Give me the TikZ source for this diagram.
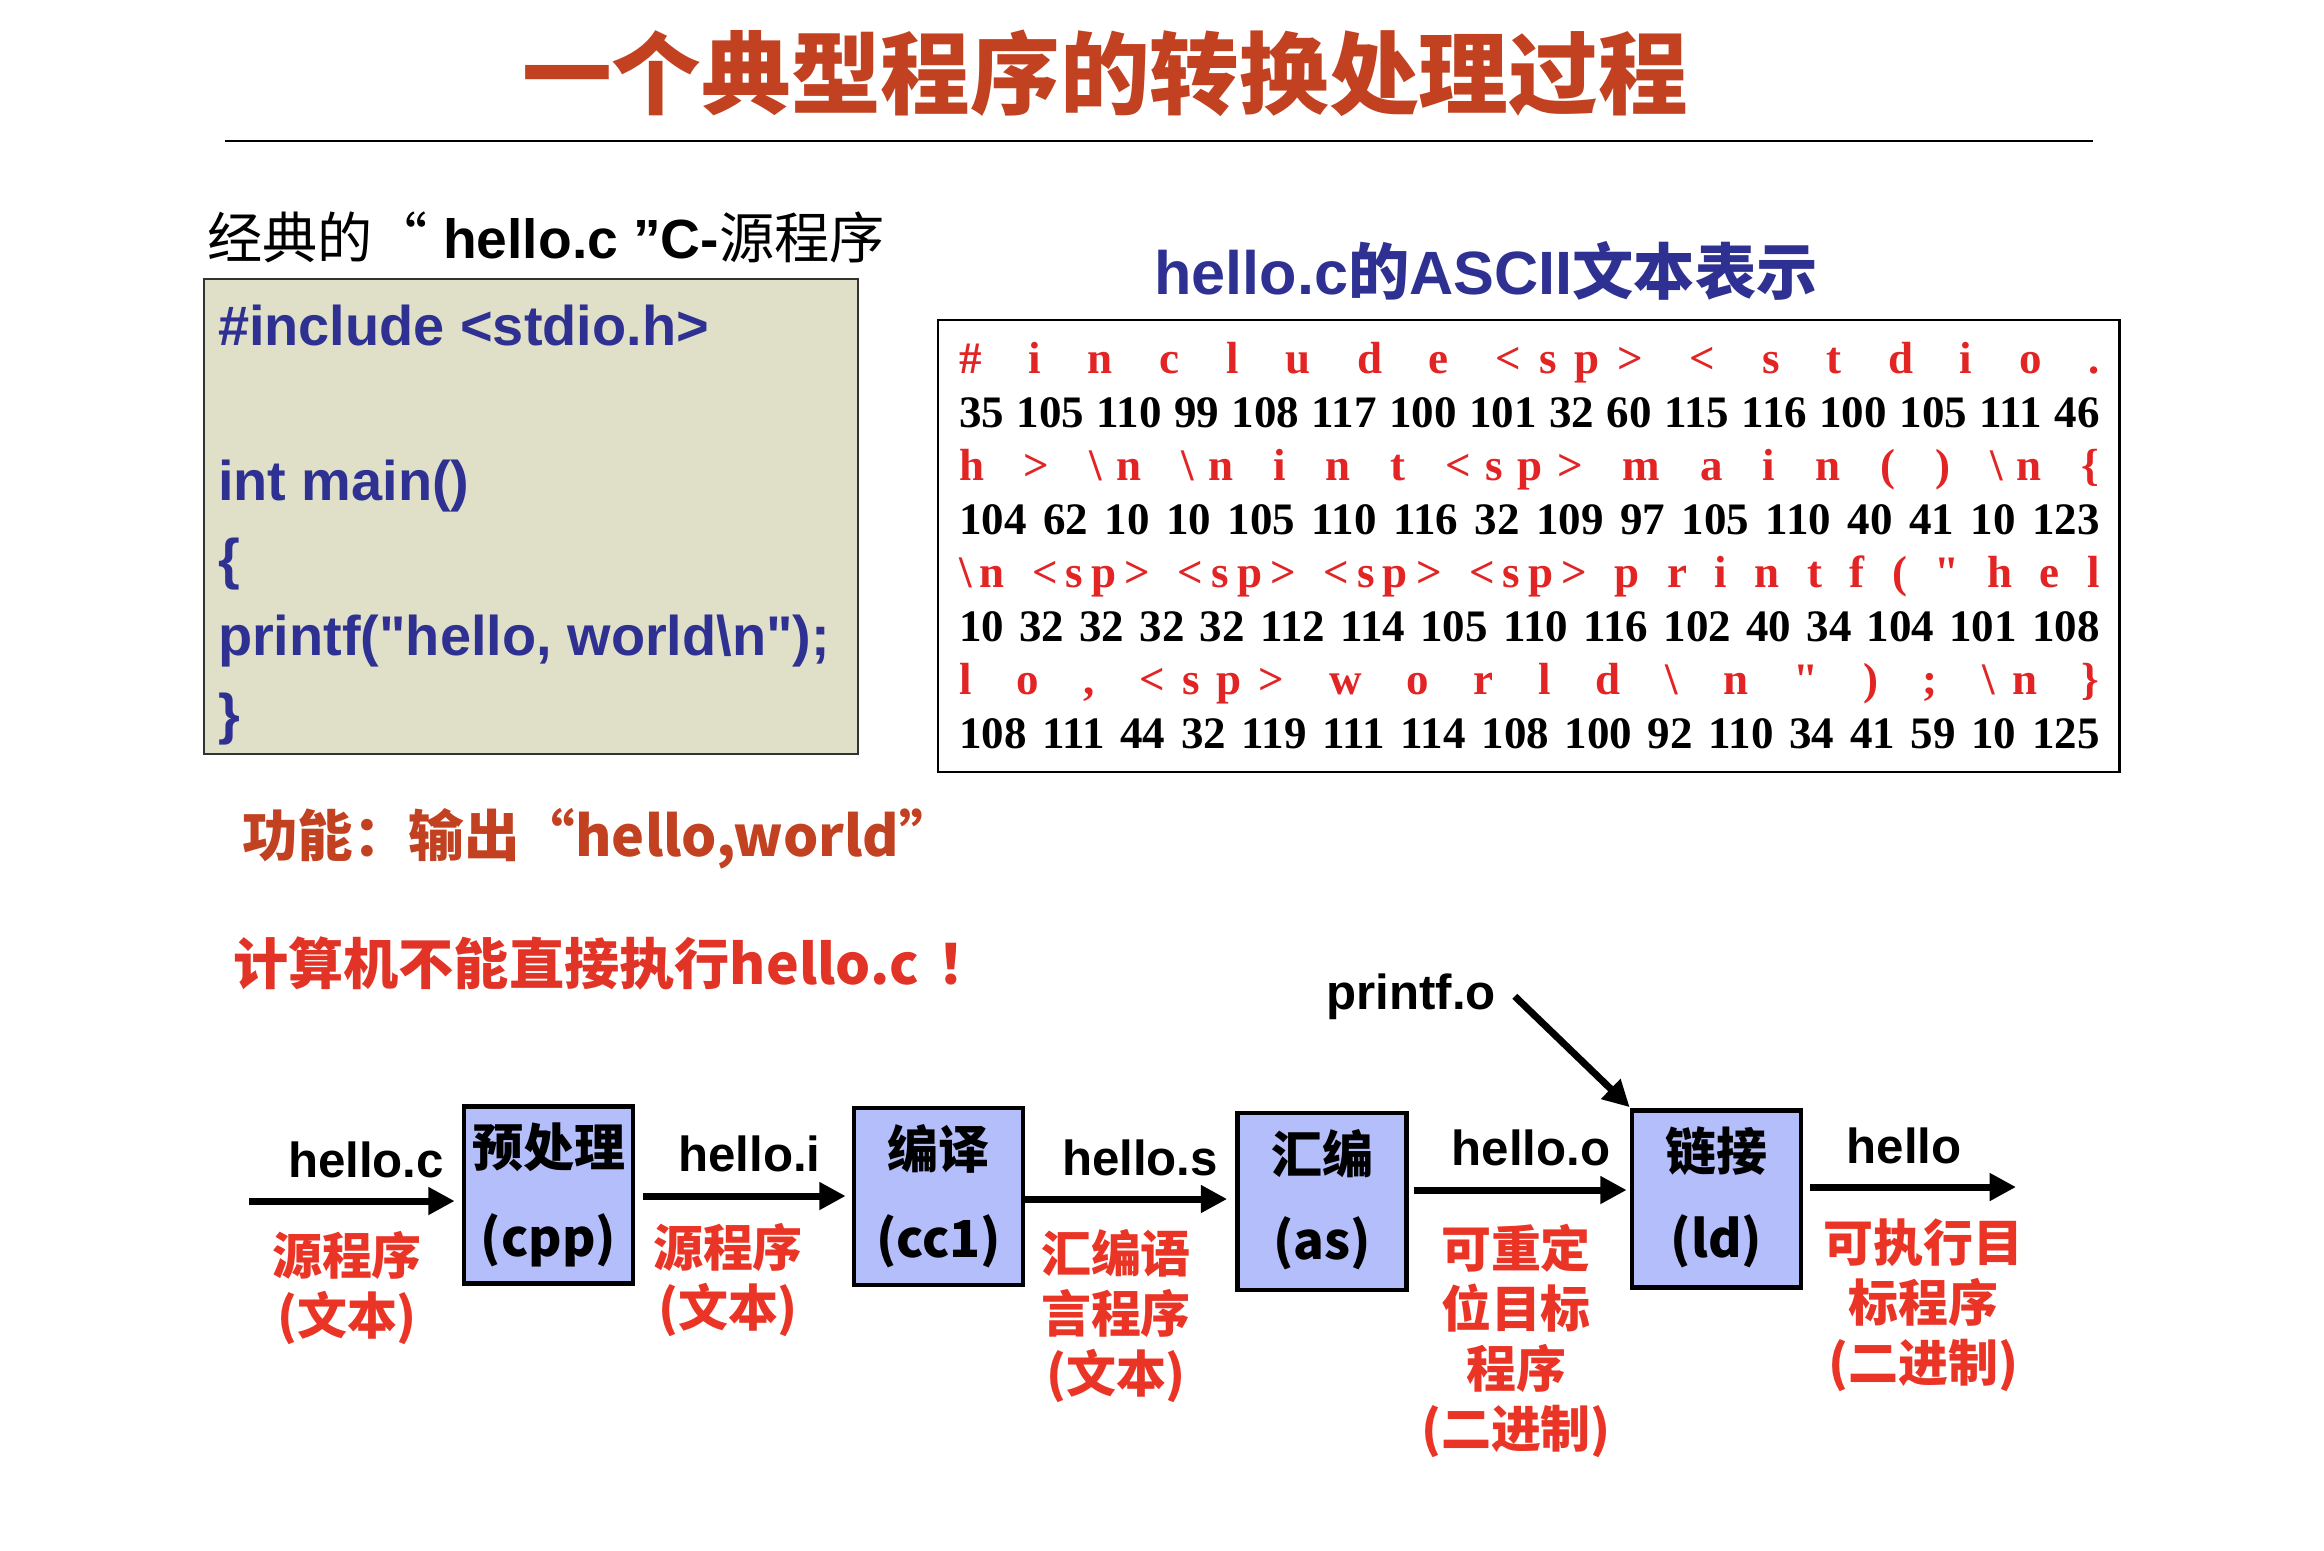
\documentclass[tikz,border=0pt]{standalone}
\usepackage{fontspec}
\setmainfont{Liberation Sans}
\newfontfamily\cjk{Noto Sans CJK SC}
\newfontfamily\serifasc{Liberation Serif}
\usetikzlibrary{arrows.meta,calc}

\definecolor{rust}{RGB}{193,65,33}
\definecolor{alertred}{RGB}{226,52,38}
\definecolor{labelred}{RGB}{234,52,38}
\definecolor{codeblue}{RGB}{46,49,146}
\definecolor{ascred}{RGB}{226,36,36}
\definecolor{codebg}{RGB}{224,223,200}
\definecolor{stagebg}{RGB}{179,190,250}

% distributed spacing for the character rows
\newcommand\cgap{\hfil}
\newcommand\tgap{\hfil\ \hfil}
\newcommand\spk{<\cgap s\cgap p\cgap >}
\newcommand\nlk{\textbackslash\cgap n}

\begin{document}
\begin{tikzpicture}[x=0.01cm,y=-0.01cm,
  txt/.style={inner sep=0pt, outer sep=0pt},
  codeline/.style={txt, anchor=base west, text=codeblue, font=\fontsize{15.9}{19}\selectfont\bfseries},
  ascrow/.style={txt, anchor=base west, font=\serifasc\fontsize{12.8}{15}\selectfont\bfseries},
  redrow/.style={ascrow, text=ascred},
  stage/.style={draw=black, line width=1.3pt, fill=stagebg, minimum width=1.69cm, minimum height=1.77cm, inner sep=0pt},
  stagetxt/.style={txt, font=\cjk\fontsize{14.5}{17}\selectfont\bfseries},
  flow/.style={line width=2pt, -{Triangle[length=7.5pt,width=7.5pt]}},
  fname/.style={txt, anchor=base, font=\fontsize{14}{17}\selectfont\bfseries},
  kind/.style={txt, align=center, text=labelred, font=\cjk\fontsize{14.2}{17}\selectfont\bfseries},
]
\useasboundingbox (0,0) rectangle (2324,1550);

% heading and rule
\node[txt, text=rust, font=\cjk\fontsize{25.5}{30}\selectfont\bfseries] (title) at (1105,73) {一个典型程序的转换处理过程};
\draw[line width=0.7pt] (225,141) -- (2093,141);

% C source listing
\node[txt, anchor=west, font=\fontsize{15.7}{18}\selectfont] (srccap) at (207,237)
  {{\cjk 经典的“}\bfseries\ hello.c ”C-{\cjk\mdseries 源程序}};
\node[draw={rgb,255:red,50;green,50;blue,50}, line width=0.6pt, fill=codebg, minimum width=6.54cm, minimum height=4.75cm, inner sep=0pt] (code) at (531,516.5) {};
\node[codeline] (c1) at (218,345) {\#include <stdio.h>};
\node[codeline] (c2) at (218,500) {int main()};
\node[codeline] (c3) at (218,578) {\{};
\node[codeline] (c4) at (218,655) {printf(\textquotedbl hello, world\textbackslash n\textquotedbl);};
\node[codeline] (c5) at (218,733) {\}};

% ASCII table
\node[txt, text=codeblue, font=\fontsize{17.4}{20}\selectfont\bfseries] (asctitle) at (1486,271)
  {hello.c{\cjk 的}ASCII{\cjk 文本表示}};
\node[draw=black, line width=0.65pt, fill=white, minimum width=11.81cm, minimum height=4.52cm, inner sep=0pt] (asc) at (1528.5,546) {};
\node[redrow] (r1) at (959,373.5) {\makebox[11.4cm][s]{\#\tgap i\tgap n\tgap c\tgap l\tgap u\tgap d\tgap e\tgap \spk\tgap <\tgap s\tgap t\tgap d\tgap i\tgap o\tgap .}};
\node[ascrow] (r2) at (959,427) {\makebox[11.4cm][s]{35 105 110 99 108 117 100 101 32 60 115 116 100 105 111 46}};
\node[redrow] (r3) at (959,480.5) {\makebox[11.4cm][s]{h\tgap >\tgap \nlk\tgap \nlk\tgap i\tgap n\tgap t\tgap \spk\tgap m\tgap a\tgap i\tgap n\tgap (\tgap )\tgap \nlk\tgap \{}};
\node[ascrow] (r4) at (959,534) {\makebox[11.4cm][s]{104 62 10 10 105 110 116 32 109 97 105 110 40 41 10 123}};
\node[redrow] (r5) at (959,587.5) {\makebox[11.4cm][s]{\nlk\tgap \spk\tgap \spk\tgap \spk\tgap \spk\tgap p\tgap r\tgap i\tgap n\tgap t\tgap f\tgap (\tgap "\tgap h\tgap e\tgap l}};
\node[ascrow] (r6) at (959,641) {\makebox[11.4cm][s]{10 32 32 32 32 112 114 105 110 116 102 40 34 104 101 108}};
\node[redrow] (r7) at (959,694.5) {\makebox[11.4cm][s]{l\tgap o\tgap ,\tgap \spk\tgap w\tgap o\tgap r\tgap l\tgap d\tgap \textbackslash\tgap n\tgap "\tgap )\tgap ;\tgap \nlk\tgap \}}};
\node[ascrow] (r8) at (959,748) {\makebox[11.4cm][s]{108 111 44 32 119 111 114 108 100 92 110 34 41 59 10 125}};

% remarks
\node[txt, anchor=west, text=rust, font=\cjk\fontsize{15.8}{19}\selectfont\bfseries] (func) at (242,839) {功能：输出“hello,world”};
\node[txt, anchor=west, text=alertred, font=\cjk\fontsize{15.7}{19}\selectfont\bfseries] (cannot) at (233,963) {计算机不能直接执行hello.c\hspace{0.35em}！};

% translation stages
\node[stage] (b1) at (548.5,1195) {};
\node[stage] (b2) at (938.5,1196.5) {};
\node[stage] (b3) at (1322,1201.5) {};
\node[stage] (b4) at (1716.5,1199) {};

\node[stagetxt] (b1a) at ($(b1.north)+(0,43)$) {预处理};
\node[stagetxt] (b1b) at ($(b1.north)+(0,136)$) {(cpp)};
\node[stagetxt] (b2a) at ($(b2.north)+(0,43)$) {编译};
\node[stagetxt] (b2b) at ($(b2.north)+(0,136)$) {(cc1)};
\node[stagetxt] (b3a) at ($(b3.north)+(0,43)$) {汇编};
\node[stagetxt] (b3b) at ($(b3.north)+(0,133)$) {(as)};
\node[stagetxt] (b4a) at ($(b4.north)+(0,43)$) {链接};
\node[stagetxt] (b4b) at ($(b4.north)+(0,133)$) {(ld)};

% file names
\node[fname] (f1) at (366,1177) {hello.c};
\node[fname] (f2) at (749.5,1171) {hello.i};
\node[fname] (f3) at (1140,1175) {hello.s};
\node[fname] (f4) at (1531,1165) {hello.o};
\node[fname] (f5) at (1904,1163) {hello};
\node[fname] (pf) at (1411,1009) {printf.o};

% file kinds
\node[kind] (k1) at (347,1288) {源程序\\(文本)};
\node[kind] (k2) at (728,1280) {源程序\\(文本)};
\node[kind] (k3) at (1116,1316) {汇编语\\言程序\\(文本)};
\node[kind] (k4) at (1516,1341) {可重定\\位目标\\程序\\(二进制)};
\node[kind] (k5) at (1923.5,1305) {可执行目\\标程序\\(二进制)};

% data flow
\coordinate (src) at (249,1201);
\coordinate (exe) at (2016,1187);
\draw[flow] (src) -- ($(b1.west)+(-7,6)$);
\draw[flow] ($(b1.east)+(8,1)$) -- ($(b2.west)+(-6,-0.5)$);
\draw[flow] ($(b2.east)+(0,2.5)$) -- ($(b3.west)+(-8,-2.5)$);
\draw[flow] ($(b3.east)+(5,-11.5)$) -- ($(b4.west)+(-3,-9)$);
\draw[flow] ($(b4.east)+(7,-12)$) -- (exe);
\draw[flow] ($(pf.east)+(19,0)$) -- ($(b4.north west)+(0,-1)$);
\end{tikzpicture}
\end{document}
